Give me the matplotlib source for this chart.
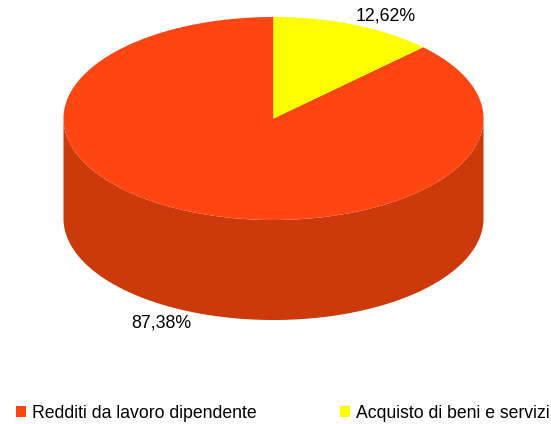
import numpy as np
import matplotlib
matplotlib.use("Agg")
import matplotlib.pyplot as plt
from matplotlib.patches import Polygon, Patch

plt.rcParams['font.family'] = ['Liberation Sans', 'DejaVu Sans']

labels = ["Redditi da lavoro dipendente", "Acquisto di beni e servizi"]
values = [87.38, 12.62]
value_labels = ["87,38%", "12,62%"]
top_colors = ["#FF4511", "#FFFF00"]
side_colors = ["#CC390B", "#CCCC00"]

# pie geometry, in pixels of the picture
cx, cy = 273.5, 118.5
rx, ry = 210, 101.5
depth = 100


def rim(a0, a1):
    # angles clockwise from 12 o'clock
    t = np.radians(np.linspace(a0, a1, 400))
    return cx + rx * np.sin(t), cy - ry * np.cos(t)


fig = plt.figure(figsize=(5.51, 4.24), dpi=100)
ax = fig.add_axes([0, 0, 1, 1])
ax.set_xlim(0, 551)
ax.set_ylim(424, 0)
ax.axis("off")

# yellow slice runs from 12 o'clock, the rest closes the circle
shares = np.array(values) / sum(values) * 360
yellow_end = shares[1]

# side wall, only the front half of the rim shows
x, y = rim(90, 270)
wall = np.column_stack([np.r_[x, x[::-1]], np.r_[y, y[::-1] + depth]])
ax.add_patch(Polygon(wall, fc=side_colors[0], ec="none"))

# top faces
x, y = rim(yellow_end, 360)
ax.add_patch(Polygon(np.column_stack([np.r_[cx, x], np.r_[cy, y]]),
                     fc=top_colors[0], ec="none"))
x, y = rim(0, yellow_end)
ax.add_patch(Polygon(np.column_stack([np.r_[cx, x], np.r_[cy, y]]),
                     fc=top_colors[1], ec="none"))

ax.text(161.5, 322.5, value_labels[0], fontsize=12.8, ha="center", va="center")
ax.text(385.5, 16, value_labels[1], fontsize=12.8, ha="center", va="center")

handles = [Patch(fc=c, ec="none") for c in top_colors]
ax.legend(handles, labels, ncol=2, frameon=False, fontsize=12.7,
          loc="center left", bbox_to_anchor=(16 / 551, 1 - 413 / 424),
          borderaxespad=0, borderpad=0, handlelength=0.58, handleheight=0.62,
          handletextpad=0.34, columnspacing=4.7)

fig.savefig("out.png", dpi=100)
